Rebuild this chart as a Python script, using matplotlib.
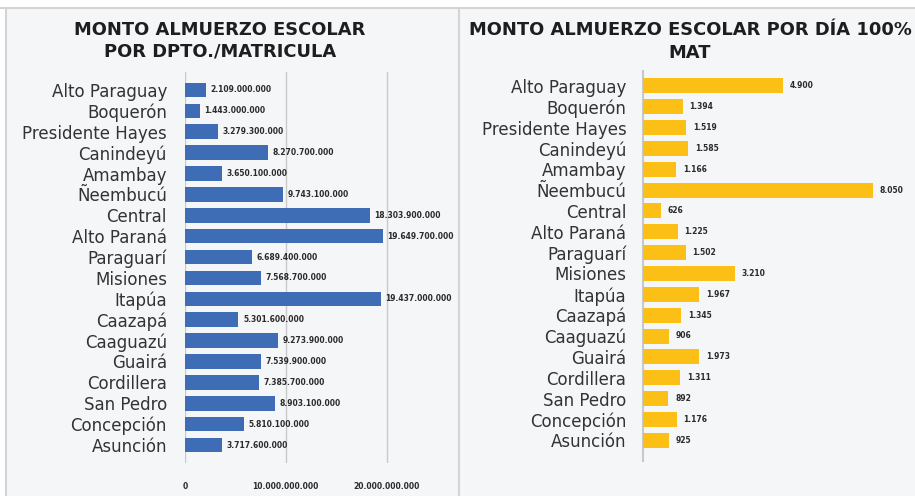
import matplotlib.pyplot as plt
from matplotlib.patches import Rectangle
from matplotlib.ticker import FuncFormatter

departamentos = ["Alto Paraguay", "Boquerón", "Presidente Hayes", "Canindeyú",
                 "Amambay", "Ñeembucú", "Central", "Alto Paraná", "Paraguarí",
                 "Misiones", "Itapúa", "Caazapá", "Caaguazú", "Guairá",
                 "Cordillera", "San Pedro", "Concepción", "Asunción"]

monto_matricula = [2109000000, 1443000000, 3279300000, 8270700000, 3650100000,
                   9743100000, 18303900000, 19649700000, 6689400000, 7568700000,
                   19437000000, 5301600000, 9273900000, 7539900000, 7385700000,
                   8903100000, 5810100000, 3717600000]

monto_dia = [4900, 1394, 1519, 1585, 1166, 8050, 626, 1225, 1502, 3210,
             1967, 1345, 906, 1973, 1311, 892, 1176, 925]

x_ticks_left = [0, 10000000000, 20000000000]

BG = "#f5f6f8"
BLUE = "#3e6db5"
YELLOW = "#fbbf16"
TXT = "#2b2b2b"
LBL = "#333333"
GRID = "#c9c9c9"


def miles(v):
    return f"{int(round(v)):,}".replace(",", ".")


W, H = 915, 496
fig = plt.figure(figsize=(W / 100, H / 100), dpi=100)
fig.patch.set_facecolor("white")

# panel backgrounds and borders
fig.patches.append(Rectangle((7 / W, 0), (451 / W), 1 - 9 / H,
                             transform=fig.transFigure, facecolor=BG,
                             edgecolor="none", zorder=-10))
fig.patches.append(Rectangle((460 / W, 0), (455 / W), 1 - 9 / H,
                             transform=fig.transFigure, facecolor=BG,
                             edgecolor="none", zorder=-10))
fig.add_artist(plt.Line2D([0, 1], [1 - 8 / H, 1 - 8 / H], color="#d4d4d4",
                          lw=1.5, transform=fig.transFigure))
fig.add_artist(plt.Line2D([6 / W, 6 / W], [0, 1 - 8 / H], color="#d4d4d4",
                          lw=1.5, transform=fig.transFigure))
fig.add_artist(plt.Line2D([459 / W, 459 / W], [0, 1 - 8 / H], color="#d4d4d4",
                          lw=1.5, transform=fig.transFigure))

ypos = list(range(len(departamentos)))

# left chart
ax1 = fig.add_axes([185 / W, 1 - 463 / H, 252 / W, 391 / H])
ax1.set_facecolor("none")
ax1.barh(ypos, monto_matricula, height=0.70, color=BLUE, zorder=3)
ax1.set_xlim(0, 25000000000)
ax1.set_ylim(17.86, -0.86)
ax1.set_xticks(x_ticks_left)
ax1.xaxis.set_major_formatter(FuncFormatter(lambda v, p: miles(v)))
ax1.set_yticks(ypos)
ax1.set_yticklabels(departamentos)
ax1.tick_params(axis="y", length=0, pad=13, labelsize=12, labelcolor=LBL)
ax1.tick_params(axis="x", length=0, pad=14, labelsize=5.5, labelcolor=TXT)
for lbl in ax1.get_xticklabels():
    lbl.set_fontweight("bold")
ax1.grid(axis="x", color=GRID, lw=1, zorder=0)
for s in ["top", "right", "bottom", "left"]:
    ax1.spines[s].set_visible(False)
for y, v in zip(ypos, monto_matricula):
    ax1.text(v + 0.045e10, y, miles(v), va="center", ha="left",
             fontsize=5.5, fontweight="bold", color=TXT, zorder=4)

# right chart
ax2 = fig.add_axes([643 / W, 1 - 461 / H, 262 / W, 390 / H])
ax2.set_facecolor("none")
ax2.barh(ypos, monto_dia, height=0.72, color=YELLOW, zorder=3)
ax2.set_xlim(0, 9170)
ax2.set_ylim(18.0, -0.72)
ax2.set_xticks([])
ax2.set_yticks(ypos)
ax2.set_yticklabels(departamentos)
ax2.tick_params(axis="y", length=0, pad=12, labelsize=12, labelcolor=LBL)
for s in ["top", "right", "bottom"]:
    ax2.spines[s].set_visible(False)
ax2.spines["left"].set_color(GRID)
ax2.spines["left"].set_linewidth(1.5)
for y, v in zip(ypos, monto_dia):
    ax2.text(v + 230, y, miles(v), va="center", ha="left",
             fontsize=5.5, fontweight="bold", color=TXT, zorder=4)

# titles
tkw = dict(ha="center", va="center", fontsize=12.9, fontweight="bold",
           color="#1e1e1e")
fig.text(220 / W, 1 - 30 / H, "MONTO ALMUERZO ESCOLAR", **tkw)
fig.text(220 / W, 1 - 52 / H, "POR DPTO./MATRICULA", **tkw)
fig.text(690 / W, 1 - 30 / H, "MONTO ALMUERZO ESCOLAR POR DÍA 100%", **tkw)
fig.text(690 / W, 1 - 53 / H, "MAT", **tkw)

fig.savefig("out.png", dpi=100, facecolor=fig.get_facecolor())
